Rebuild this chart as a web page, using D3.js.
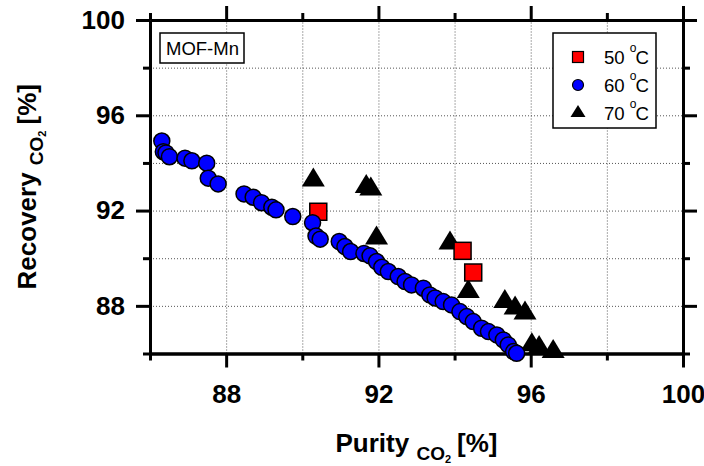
<meta charset="utf-8">
<style>
	body { margin: 0; background: #fff; }
	text { font-family: "Liberation Sans", Arial, sans-serif; }
	.frame .domain { stroke: #000; stroke-width: 3; }
	.frame .tick line { stroke: #000; stroke-width: 3; }
	.frame .tick text { font-size: 26px; font-weight: bold; fill: #000; font-family: "Liberation Sans", Arial, sans-serif; }
	.grid .domain { display: none; }
	.grid .tick line { stroke: #555; stroke-width: 1; stroke-dasharray: 1,2; }
</style>
<body>
<svg id="svg"></svg>
<script src="https://cdn.jsdelivr.net/npm/d3@7"></script>
<script>

// DATA
var labels = [ "50", "60", "70" ]

var purity50   = [ 90.42, 94.21, 94.49 ]
var recovery50 = [ 91.95, 90.31, 89.40 ]

var purity60   = [ 86.31, 86.35, 86.42, 86.51, 86.92, 87.10, 87.49, 87.53, 87.79, 88.47,
	88.71, 88.93, 89.20, 89.31, 89.75, 90.27, 90.36, 90.47, 90.97, 91.12,
	91.27, 91.62, 91.78, 91.95, 92.09, 92.26, 92.52, 92.70, 92.87, 93.18,
	93.35, 93.49, 93.70, 93.92, 94.14, 94.32, 94.49, 94.71, 94.89, 95.11,
	95.28, 95.41, 95.55, 95.63 ]
var recovery60 = [ 94.92, 94.47, 94.42, 94.26, 94.20, 94.09, 93.99, 93.36, 93.12, 92.70,
	92.56, 92.33, 92.14, 92.03, 91.75, 91.49, 90.93, 90.80, 90.70, 90.49,
	90.28, 90.20, 90.10, 89.86, 89.62, 89.44, 89.23, 89.02, 88.88, 88.74,
	88.46, 88.33, 88.18, 88.04, 87.76, 87.55, 87.34, 87.06, 86.92, 86.78,
	86.57, 86.36, 86.08, 86.01 ]

var purity70   = [ 90.29, 91.68, 91.80, 91.95, 93.88, 94.36, 95.32, 95.59, 95.85, 96.03, 96.22, 96.59 ]
var recovery70 = [ 93.28, 93.00, 92.90, 90.84, 90.63, 88.60, 88.18, 87.90, 87.69, 86.36, 86.24, 86.08 ]

var majorTicks = [ 88, 92, 96, 100 ]
var minorTicks = [ 86, 90, 94, 98 ]
var gridTicks  = [ 88, 90, 92, 94, 96, 98 ]

// CANVAS
var width = 704
var height = 466

var svg = d3.select( '#svg' )
	.attr( 'width', width )
	.attr( 'height', height )

var x = d3.scaleLinear().domain([ 86, 100 ]).range([ 150, 683 ])
var y = d3.scaleLinear().domain([ 86, 100 ]).range([ 353.5, 20 ])

var pLeft = x.range()[0], pRight = x.range()[1]
var pTop = y.range()[1], pBottom = y.range()[0]

// GRID
svg.append( 'g' ).attr( 'class', 'grid' )
	.attr( 'transform', 'translate(0,' + pBottom + ')' )
	.call( d3.axisBottom( x ).tickValues( gridTicks ).tickSize( -( pBottom - pTop )).tickFormat( '' ))
svg.append( 'g' ).attr( 'class', 'grid' )
	.attr( 'transform', 'translate(' + pLeft + ',0)' )
	.call( d3.axisLeft( y ).tickValues( gridTicks ).tickSize( -( pRight - pLeft )).tickFormat( '' ))

// AXES (all four sides, major + minor ticks)
function frame( axis, tx, ty, ticks, size, labelled, pad ){
	var a = axis.tickValues( ticks ).tickSize( size ).tickSizeOuter( 0 )
	if( !labelled ) a.tickFormat( '' )
	else a.tickPadding( pad ).tickFormat( d3.format( 'd' ))
	svg.append( 'g' ).attr( 'class', 'frame' )
		.attr( 'transform', 'translate(' + tx + ',' + ty + ')' )
		.call( a )
}

frame( d3.axisBottom( x ), 0, pBottom, minorTicks, 7, false )
frame( d3.axisBottom( x ), 0, pBottom, majorTicks, 14, true, 17 )
frame( d3.axisTop( x ), 0, pTop, minorTicks, 7, false )
frame( d3.axisTop( x ), 0, pTop, majorTicks, 14, false )
frame( d3.axisLeft( y ), pLeft, 0, minorTicks, 7, false )
frame( d3.axisLeft( y ), pLeft, 0, majorTicks, 14, true, 11 )
frame( d3.axisRight( y ), pRight, 0, minorTicks, 7, false )
frame( d3.axisRight( y ), pRight, 0, majorTicks, 14, false )

// AXIS TITLES
var xt = svg.append( 'text' )
	.attr( 'x', ( pLeft + pRight ) / 2 )
	.attr( 'y', 452 )
	.attr( 'text-anchor', 'middle' )
	.style( 'font-size', '26px' )
	.style( 'font-weight', 'bold' )
xt.append( 'tspan' ).text( 'Purity ' )
xt.append( 'tspan' ).attr( 'dy', 8 ).style( 'font-size', '19px' ).text( 'CO' )
xt.append( 'tspan' ).attr( 'dy', 3 ).style( 'font-size', '11px' ).text( '2' )
xt.append( 'tspan' ).attr( 'dy', -11 ).attr( 'dx', 6 ).text( '[%]' )

var yt = svg.append( 'text' )
	.attr( 'transform', 'translate(36,' + ( pTop + pBottom ) / 2 + ') rotate(-90)' )
	.attr( 'text-anchor', 'middle' )
	.style( 'font-size', '26px' )
	.style( 'font-weight', 'bold' )
yt.append( 'tspan' ).text( 'Recovery ' )
yt.append( 'tspan' ).attr( 'dy', 7 ).style( 'font-size', '19px' ).text( 'CO' )
yt.append( 'tspan' ).attr( 'dy', 3 ).style( 'font-size', '11px' ).text( '2' )
yt.append( 'tspan' ).attr( 'dy', -10 ).attr( 'dx', 6 ).text( '[%]' )

// MARKS
function triPath( w, h ){
	return 'M0,' + ( -h * 2 / 3 ) + 'L' + ( w / 2 ) + ',' + ( h / 3 ) + 'L' + ( -w / 2 ) + ',' + ( h / 3 ) + 'Z'
}

svg.append( 'g' ).selectAll( 'path' )
	.data( d3.zip( purity70, recovery70 ))
	.enter().append( 'path' )
		.attr( 'd', triPath( 23, 19 ))
		.attr( 'transform', d => 'translate(' + x( d[0] ) + ',' + y( d[1] ) + ')' )
		.attr( 'fill', '#000' )

svg.append( 'g' ).selectAll( 'rect' )
	.data( d3.zip( purity50, recovery50 ))
	.enter().append( 'rect' )
		.attr( 'x', d => x( d[0] ) - 8.5 )
		.attr( 'y', d => y( d[1] ) - 8.5 )
		.attr( 'width', 17 )
		.attr( 'height', 17 )
		.attr( 'fill', '#ff0000' )
		.attr( 'stroke', '#000' )
		.attr( 'stroke-width', 1.5 )

svg.append( 'g' ).selectAll( 'circle' )
	.data( d3.zip( purity60, recovery60 ))
	.enter().append( 'circle' )
		.attr( 'cx', d => x( d[0] ))
		.attr( 'cy', d => y( d[1] ))
		.attr( 'r', 8 )
		.attr( 'fill', '#0000ff' )
		.attr( 'stroke', '#000' )
		.attr( 'stroke-width', 1.5 )

// SAMPLE LABEL
svg.append( 'rect' )
	.attr( 'x', 160 ).attr( 'y', 33 )
	.attr( 'width', 84 ).attr( 'height', 30 )
	.attr( 'fill', '#fff' )
	.attr( 'stroke', '#000' )
	.attr( 'stroke-width', 1.5 )
svg.append( 'text' )
	.attr( 'x', 166 ).attr( 'y', 55 )
	.style( 'font-size', '18.5px' )
	.text( 'MOF-Mn' )

// LEGEND
var legend = svg.append( 'g' )
legend.append( 'rect' )
	.attr( 'x', 553 ).attr( 'y', 33 )
	.attr( 'width', 103 ).attr( 'height', 95 )
	.attr( 'fill', '#fff' )
	.attr( 'stroke', '#000' )
	.attr( 'stroke-width', 1.5 )

var rows = [ 57, 85, 113 ]
legend.append( 'rect' )
	.attr( 'x', 578 - 5.5 ).attr( 'y', rows[0] - 5.5 )
	.attr( 'width', 11 ).attr( 'height', 11 )
	.attr( 'fill', '#ff0000' ).attr( 'stroke', '#000' ).attr( 'stroke-width', 1.2 )
legend.append( 'circle' )
	.attr( 'cx', 578 ).attr( 'cy', rows[1] ).attr( 'r', 5.5 )
	.attr( 'fill', '#0000ff' ).attr( 'stroke', '#000' ).attr( 'stroke-width', 1.2 )
legend.append( 'path' )
	.attr( 'd', triPath( 15, 12 ))
	.attr( 'transform', 'translate(578,' + rows[2] + ')' )
	.attr( 'fill', '#000' )

labels.forEach(( lab, i ) => {
	var t = legend.append( 'text' )
		.attr( 'x', 604 ).attr( 'y', rows[i] + 6.6 )
		.style( 'font-size', '18.6px' )
	t.append( 'tspan' ).text( lab + ' ' )
	t.append( 'tspan' ).attr( 'dy', -11.5 ).style( 'font-size', '12px' ).text( 'o' )
	t.append( 'tspan' ).attr( 'dy', 11.5 ).attr( 'dx', -1 ).text( 'C' )
})

</script>
</body>
